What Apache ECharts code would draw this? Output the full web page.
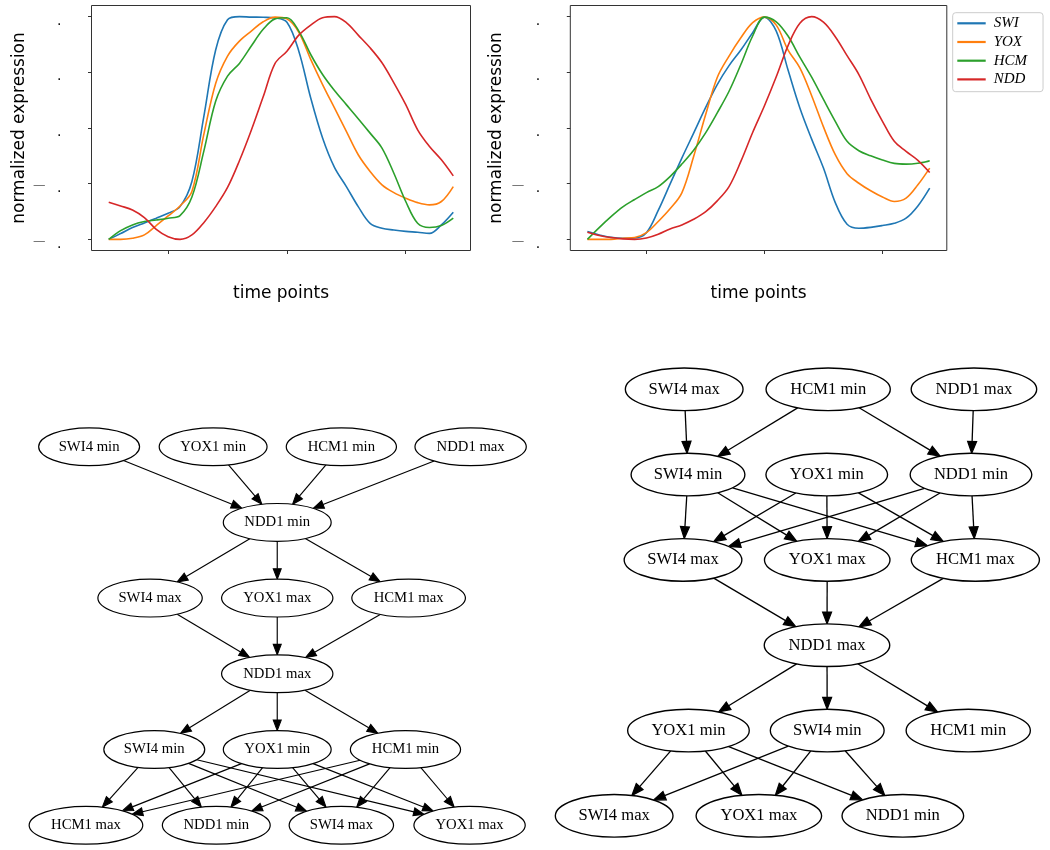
<!DOCTYPE html>
<html><head><meta charset="utf-8">
<script src="https://cdn.jsdelivr.net/npm/echarts@6/dist/echarts.min.js"></script>
<style>html,body{margin:0;padding:0;background:#fff}#c{width:1050px;height:850px}</style>
</head><body><div id="c"></div>
<script>
// ---------- top charts data ----------
const timePoints = [0,1,2,3,4,5,6,7,8,9,10,11,12,13,14,15,16,17,18,19,20,21,22,23,24,25,26,27,28,29];
const seriesNames = ['SWI', 'YOX', 'HCM', 'NDD'];
const xTickValues = [5, 15, 25];
const yTickValues = [0, 0.25, 0.5, 0.75, 1];
const yDashTickValues = [0, 0.25];

const leftSWI = [0, 0.026, 0.053, 0.074, 0.095, 0.117, 0.147, 0.26, 0.55, 0.85, 0.986, 1.0, 0.998, 0.997, 0.994, 0.975, 0.845, 0.635, 0.455, 0.323, 0.237, 0.147, 0.072, 0.05, 0.042, 0.036, 0.032, 0.027, 0.065, 0.122];
const leftYOX = [0, 0, 0.005, 0.02, 0.062, 0.105, 0.15, 0.215, 0.47, 0.70, 0.823, 0.89, 0.935, 0.977, 0.998, 0.99, 0.93, 0.808, 0.695, 0.59, 0.485, 0.38, 0.305, 0.245, 0.21, 0.185, 0.165, 0.155, 0.17, 0.237];
const leftHCM = [0, 0.039, 0.065, 0.08, 0.087, 0.095, 0.107, 0.19, 0.395, 0.62, 0.733, 0.79, 0.868, 0.943, 0.99, 0.995, 0.935, 0.83, 0.74, 0.668, 0.605, 0.542, 0.477, 0.41, 0.297, 0.17, 0.072, 0.053, 0.062, 0.095];
const leftNDD = [0.167, 0.15, 0.132, 0.098, 0.045, 0.012, 0, 0.02, 0.075, 0.147, 0.233, 0.353, 0.49, 0.64, 0.79, 0.845, 0.917, 0.962, 0.995, 1.0, 0.973, 0.917, 0.86, 0.793, 0.703, 0.605, 0.492, 0.417, 0.357, 0.285];

const rightSWI = [0.035, 0.02, 0.009, 0.005, 0.006, 0.03, 0.13, 0.248, 0.365, 0.477, 0.59, 0.695, 0.78, 0.85, 0.928, 0.998, 0.935, 0.76, 0.59, 0.45, 0.32, 0.165, 0.068, 0.05, 0.054, 0.062, 0.072, 0.095, 0.15, 0.23];
const rightYOX = [0, 0, 0, 0.005, 0.008, 0.03, 0.08, 0.137, 0.209, 0.372, 0.557, 0.727, 0.823, 0.905, 0.973, 0.998, 0.962, 0.85, 0.77, 0.645, 0.505, 0.38, 0.295, 0.252, 0.218, 0.19, 0.17, 0.185, 0.245, 0.32];
const rightHCM = [0, 0.053, 0.102, 0.146, 0.179, 0.21, 0.237, 0.282, 0.338, 0.4, 0.477, 0.568, 0.665, 0.785, 0.913, 0.998, 0.977, 0.913, 0.818, 0.728, 0.628, 0.53, 0.44, 0.398, 0.375, 0.356, 0.341, 0.338, 0.342, 0.353];
const rightNDD = [0.032, 0.017, 0.008, 0.002, 0, 0.006, 0.023, 0.047, 0.065, 0.09, 0.123, 0.173, 0.237, 0.35, 0.48, 0.60, 0.73, 0.87, 0.97, 1.0, 0.975, 0.91, 0.825, 0.74, 0.63, 0.53, 0.44, 0.395, 0.355, 0.30];

// ---------- graph data (x in graph layout points, rank = level) ----------
const g1Names = ['SWI4 min','YOX1 min','HCM1 min','NDD1 max','NDD1 min','SWI4 max','YOX1 max','HCM1 max','NDD1 max','SWI4 min','YOX1 min','HCM1 min','HCM1 max','NDD1 min','SWI4 max','YOX1 max'];
const g1Ranks = [0,0,0,0,1,2,2,2,3,4,4,4,5,5,5,5];
const g1X = [61, 179, 301, 424, 240, 119, 240, 365, 240, 123, 240, 362, 58, 182, 301, 423];
const g1Edges = [[0,4],[1,4],[2,4],[3,4],[4,5],[4,6],[4,7],[5,8],[6,8],[7,8],[8,9],[8,10],[8,11],
  [9,12],[9,13],[9,14],[9,15],[10,12],[10,13],[10,14],[10,15],[11,12],[11,13],[11,14],[11,15]];

const g2Names = ['SWI4 max','HCM1 min','NDD1 max','SWI4 min','YOX1 min','NDD1 min','SWI4 max','YOX1 max','HCM1 max','NDD1 max','YOX1 min','SWI4 min','HCM1 min','SWI4 max','YOX1 max','NDD1 min'];
const g2Ranks = [0,0,0,1,1,1,2,2,2,3,4,4,4,5,5,5];
const g2X = [113.5, 235, 358, 116.7, 233.8, 355.5, 112.5, 234.2, 359.2, 234, 117.1, 234.2, 353.2, 54.4, 176.5, 298];
const g2Edges = [[0,3],[1,3],[1,5],[2,5],[3,6],[3,7],[3,8],[4,6],[4,7],[4,8],[5,6],[5,7],[5,8],[6,9],[7,9],[8,9],
  [9,10],[9,11],[9,12],[10,13],[10,14],[10,15],[11,13],[11,14],[11,15]];

// ---------- styles ----------
const colors = ['#1f77b4', '#ff7f0e', '#2ca02c', '#d62728'];
const SANS = 'DejaVu Sans';
const SERIF = 'Liberation Serif';
const NODE_FONT_PT = 14, NODE_RY_PT = 18, NODE_PAD_PT = 10, ARROW_LEN_PT = 10, ARROW_HALF_PT = 3.8;

const measureCtx = document.createElement('canvas').getContext('2d');
function textWidth(str, fs) { measureCtx.font = fs + 'px "' + SERIF + '"'; return measureCtx.measureText(str).width; }
function nodeGeom(name, s) {
  const fs = NODE_FONT_PT * s;
  return { fs: fs, rx: (textWidth(name, fs) + NODE_PAD_PT * s) * Math.SQRT2 / 2, ry: NODE_RY_PT * s };
}

function nodeSeries(names, ranks, xs, idx) {
  return {
    type: 'custom', name: 'nodes' + idx, coordinateSystem: 'cartesian2d', xAxisIndex: idx, yAxisIndex: idx,
    z: 5, silent: true, clip: false,
    data: names.map((n, i) => [xs[i], ranks[i], i]),
    encode: { x: 0, y: 1 },
    renderItem: function (params, api) {
      const p = api.coord([api.value(0), api.value(1)]);
      const s = api.size([1, 0])[0];
      const name = names[api.value(2)];
      const g = nodeGeom(name, s);
      return { type: 'group', children: [
        { type: 'ellipse', shape: { cx: p[0], cy: p[1], rx: g.rx, ry: g.ry },
          style: { fill: '#fff', stroke: '#000', lineWidth: 1.15 * s } },
        { type: 'text', style: { text: name, x: p[0], y: p[1], align: 'center', verticalAlign: 'middle',
          font: g.fs + 'px "' + SERIF + '"', fill: '#000' } }
      ]};
    }
  };
}

function edgeSeries(names, ranks, xs, edges, idx) {
  return {
    type: 'custom', name: 'edges' + idx, coordinateSystem: 'cartesian2d', xAxisIndex: idx, yAxisIndex: idx,
    z: 3, silent: true, clip: false,
    data: edges.map(e => [xs[e[0]], ranks[e[0]], xs[e[1]], ranks[e[1]], e[0], e[1]]),
    encode: { x: [0, 2], y: [1, 3] },
    renderItem: function (params, api) {
      const p1 = api.coord([api.value(0), api.value(1)]);
      const p2 = api.coord([api.value(2), api.value(3)]);
      const s = api.size([1, 0])[0];
      const a = nodeGeom(names[api.value(4)], s), b = nodeGeom(names[api.value(5)], s);
      let dx = p2[0] - p1[0], dy = p2[1] - p1[1];
      const len = Math.hypot(dx, dy); dx /= len; dy /= len;
      const t1 = 1 / Math.sqrt((dx / a.rx) ** 2 + (dy / a.ry) ** 2);
      const t2 = 1 / Math.sqrt((dx / b.rx) ** 2 + (dy / b.ry) ** 2);
      const st = [p1[0] + dx * t1, p1[1] + dy * t1];
      const tip = [p2[0] - dx * t2, p2[1] - dy * t2];
      const L = ARROW_LEN_PT * s, W = ARROW_HALF_PT * s;
      const base = [tip[0] - dx * L, tip[1] - dy * L];
      const nx = -dy, ny = dx;
      return { type: 'group', children: [
        { type: 'line', shape: { x1: st[0], y1: st[1], x2: base[0], y2: base[1] },
          style: { stroke: '#000', lineWidth: 1.1 * s } },
        { type: 'polygon', shape: { points: [tip, [base[0] + nx * W, base[1] + ny * W], [base[0] - nx * W, base[1] - ny * W]] },
          style: { fill: '#000', stroke: '#000', lineWidth: s } }
      ]};
    }
  };
}

function lineSeries(name, values, idx, color) {
  return {
    type: 'line', name: name, xAxisIndex: idx, yAxisIndex: idx, symbol: 'none', smooth: 0.35,
    lineStyle: { color: color, width: 1.6 }, itemStyle: { color: color },
    data: timePoints.map((t, i) => [t, values[i]]), z: 2
  };
}

function timeAxis(grid) {
  return {
    type: 'value', gridIndex: grid, min: -1.45, max: 30.45,
    axisLine: { show: false, onZero: false }, splitLine: { show: false },
    axisTick: { show: true, inside: false, length: 3.5, customValues: xTickValues, lineStyle: { color: '#333', width: 1 } },
    axisLabel: { show: false },
    name: 'time points', nameLocation: 'middle', nameGap: 35,
    nameTextStyle: { fontFamily: SANS, fontSize: 17, color: '#000' }
  };
}
function valueAxis(grid, gap) {
  return {
    type: 'value', gridIndex: grid, position: 'left', min: -0.05, max: 1.05,
    axisLine: { show: false, onZero: false }, splitLine: { show: false },
    axisTick: { show: true, inside: false, length: 3.5, customValues: yTickValues, lineStyle: { color: '#333', width: 1 } },
    axisLabel: { customValues: yTickValues, formatter: () => '.', margin: 30, fontFamily: SANS, fontSize: 14, color: '#000',
      verticalAlign: 'top', lineHeight: 9 },
    name: 'normalized expression', nameLocation: 'middle', nameGap: gap, nameRotate: 90,
    nameTextStyle: { fontFamily: SANS, fontSize: 17, color: '#000' }
  };
}
function dashAxis(grid) {
  return {
    type: 'value', gridIndex: grid, position: 'left', min: -0.05, max: 1.05,
    axisLine: { show: false, onZero: false }, splitLine: { show: false }, axisTick: { show: false },
    axisLabel: { customValues: yDashTickValues, formatter: () => '\u2014', margin: 46, fontFamily: SANS, fontSize: 12.5, color: '#666',
      verticalAlign: 'top', lineHeight: 4 }
  };
}
function hiddenAxis(grid, min, max, inverse) {
  return { type: 'value', gridIndex: grid, min: min, max: max, inverse: !!inverse, show: false };
}

const option = {
  backgroundColor: '#fff',
  animation: false,
  color: colors,
  grid: [
    { left: 91.5, top: 5.5, width: 379, height: 245, show: true, borderColor: '#333', borderWidth: 1 },
    { left: 570.3, top: 5.5, width: 376.5, height: 245, show: true, borderColor: '#333', borderWidth: 1 },
    { left: 25, top: 408.85, width: 525.5, height: 439.06 },
    { left: 549.7, top: 346.65, width: 497.7, height: 498.7 }
  ],
  xAxis: [ timeAxis(0), timeAxis(1), hiddenAxis(2, 0, 500), hiddenAxis(3, 0, 420) ],
  yAxis: [ valueAxis(0, 63), valueAxis(1, 65), hiddenAxis(2, -0.5, 5.3, true), hiddenAxis(3, -0.5, 5.346, true), dashAxis(0), dashAxis(1) ],
  legend: {
    data: seriesNames, orient: 'vertical', left: 952.7, top: 12.7, icon: 'rect',
    padding: [3.1, 16, 4.8, 4.6], itemGap: 3.7, itemWidth: 28.4, itemHeight: 2.2,
    borderColor: '#cccccc', borderWidth: 1, borderRadius: 3, backgroundColor: 'rgba(255,255,255,0.8)',
    textStyle: { fontFamily: SERIF, fontStyle: 'italic', fontSize: 15, color: '#000', padding: [0, 0, 0, 3] }
  },
  series: [
    lineSeries('SWI', leftSWI, 0, colors[0]),
    lineSeries('YOX', leftYOX, 0, colors[1]),
    lineSeries('HCM', leftHCM, 0, colors[2]),
    lineSeries('NDD', leftNDD, 0, colors[3]),
    lineSeries('SWI', rightSWI, 1, colors[0]),
    lineSeries('YOX', rightYOX, 1, colors[1]),
    lineSeries('HCM', rightHCM, 1, colors[2]),
    lineSeries('NDD', rightNDD, 1, colors[3]),
    edgeSeries(g1Names, g1Ranks, g1X, g1Edges, 2),
    nodeSeries(g1Names, g1Ranks, g1X, 2),
    edgeSeries(g2Names, g2Ranks, g2X, g2Edges, 3),
    nodeSeries(g2Names, g2Ranks, g2X, 3)
  ]
};

const chart = echarts.init(document.getElementById('c'), null, { renderer: 'canvas' });
chart.setOption(option);
</script>
</body></html>
